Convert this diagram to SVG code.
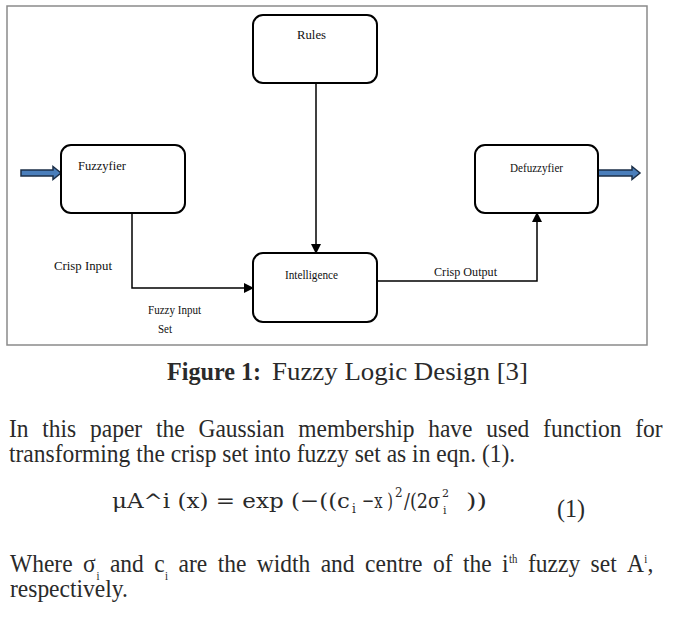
<svg xmlns="http://www.w3.org/2000/svg" width="678" height="627" viewBox="0 0 678 627">
<style>
.box{fill:#fff;stroke:#000;stroke-width:2}
.lbl{font-family:"Liberation Serif","Times New Roman",serif;fill:#111}
.con{fill:none;stroke:#000;stroke-width:1.5}
.blue{fill:#4a7ebb;stroke:#1c2f48;stroke-width:1.5}
.body{font-family:"Liberation Serif","Times New Roman",serif;fill:#2a2a2a;font-size:25px}
.small{font-family:"Liberation Serif","Times New Roman",serif;fill:#2a2a2a;font-size:11.5px}
.eq{font-family:"DejaVu Serif",serif;fill:#2a2a2a}
</style>
<defs>
<marker id="ah" markerWidth="10" markerHeight="10" refX="9" refY="5" orient="auto" markerUnits="userSpaceOnUse">
<path d="M0,0 L10,5 L0,10 Z" fill="#000"/>
</marker>
</defs>
<rect width="678" height="627" fill="#fff"/>
<rect x="7" y="6" width="640" height="339" fill="none" stroke="#8a8a8a" stroke-width="1.5"/>
<g id="connectors">
<path class="con" d="M132 213 V288 H253" marker-end="url(#ah)"/>
<path class="con" d="M316 83 V253" marker-end="url(#ah)"/>
<path class="con" d="M377 281 H537 V213" marker-end="url(#ah)"/>
<path class="blue" d="M21 170 H53 V166.5 L61 173 L53 179.5 V176 H21 Z"/>
<path class="blue" d="M598 170 H632 V166.5 L640 173 L632 179.5 V176 H598 Z"/>
</g>
<g id="rules">
<rect class="box" x="253" y="15" width="124" height="68" rx="10"/>
<text class="lbl" x="297" y="39" font-size="12.5" textLength="29" lengthAdjust="spacingAndGlyphs">Rules</text>
</g>
<g id="fuzzyfier">
<rect class="box" x="61" y="145" width="124" height="68" rx="10"/>
<text class="lbl" x="78" y="170" font-size="12.5" textLength="48" lengthAdjust="spacingAndGlyphs">Fuzzyfier</text>
</g>
<g id="defuzzyfier">
<rect class="box" x="475" y="145" width="123" height="68" rx="10"/>
<text class="lbl" x="510" y="172" font-size="11.5" textLength="53" lengthAdjust="spacingAndGlyphs">Defuzzyfier</text>
</g>
<g id="intelligence">
<rect class="box" x="253" y="253" width="124" height="69" rx="10"/>
<text class="lbl" x="285" y="279" font-size="11.5" textLength="53" lengthAdjust="spacingAndGlyphs">Intelligence</text>
</g>
<g id="labels">
<text class="lbl" x="54" y="270" font-size="12.5" textLength="58" lengthAdjust="spacingAndGlyphs">Crisp Input</text>
<text class="lbl" x="434" y="276" font-size="12.5" textLength="63" lengthAdjust="spacingAndGlyphs">Crisp Output</text>
<text class="lbl" x="148" y="314" font-size="11.5" textLength="53" lengthAdjust="spacingAndGlyphs">Fuzzy Input</text>
<text class="lbl" x="158" y="333" font-size="11.5" textLength="14" lengthAdjust="spacingAndGlyphs">Set</text>
</g>
<g id="caption">
<text class="body" x="167" y="380" font-weight="bold" textLength="94" lengthAdjust="spacingAndGlyphs">Figure 1:</text>
<text class="body" x="272" y="380" textLength="256" lengthAdjust="spacingAndGlyphs">Fuzzy Logic Design [3]</text>
</g>
<g id="paragraph" transform="scale(0.94 1)">
<text class="body" x="9.57" y="437" word-spacing="8.4">In this paper the Gaussian membership have used function for</text>
<text class="body" x="9.57" y="462">transforming the crisp set into fuzzy set as in eqn. (1).</text>
</g>
<g id="equation">
<text class="eq" x="112" y="508" font-size="21" textLength="238" lengthAdjust="spacingAndGlyphs">μA^i (x) = exp (−((c</text>
<text class="eq" x="352" y="513" font-size="12">i</text>
<text class="eq" x="362" y="508" font-size="21" textLength="31" lengthAdjust="spacingAndGlyphs">−x )</text>
<text class="eq" x="395" y="497" font-size="12">2</text>
<text class="eq" x="404" y="508" font-size="21" textLength="36" lengthAdjust="spacingAndGlyphs">/(2σ</text>
<text class="eq" x="442" y="497" font-size="11">2</text>
<text class="eq" x="443" y="514" font-size="11">i</text>
<text class="eq" x="466" y="508" font-size="21" textLength="21" lengthAdjust="spacingAndGlyphs">))</text>
<text class="body" x="557" y="517" textLength="28" lengthAdjust="spacingAndGlyphs">(1)</text>
</g>
<g id="where" transform="scale(0.94 1)">
<text class="body" y="572"><tspan x="10.64">Where</tspan><tspan x="88.3">σ</tspan><tspan x="116.91">and</tspan><tspan x="164.15">c</tspan><tspan x="190">are</tspan><tspan x="231.6">the</tspan><tspan x="273.19">width</tspan><tspan x="341.17">and</tspan><tspan x="388.4">centre</tspan><tspan x="460.53">of</tspan><tspan x="492.45">the</tspan><tspan x="534.04">i</tspan><tspan x="561.7">fuzzy</tspan><tspan x="628.3">set</tspan><tspan x="667.13">A</tspan><tspan x="688.83">,</tspan></text>
<text class="small" x="102.66" y="580">i</text>
<text class="small" x="175.53" y="580">i</text>
<text class="small" x="541.49" y="563">th</text>
<text class="small" x="685.32" y="563">i</text>
<text class="body" x="10.64" y="597">respectively.</text>
</g>
</svg>
